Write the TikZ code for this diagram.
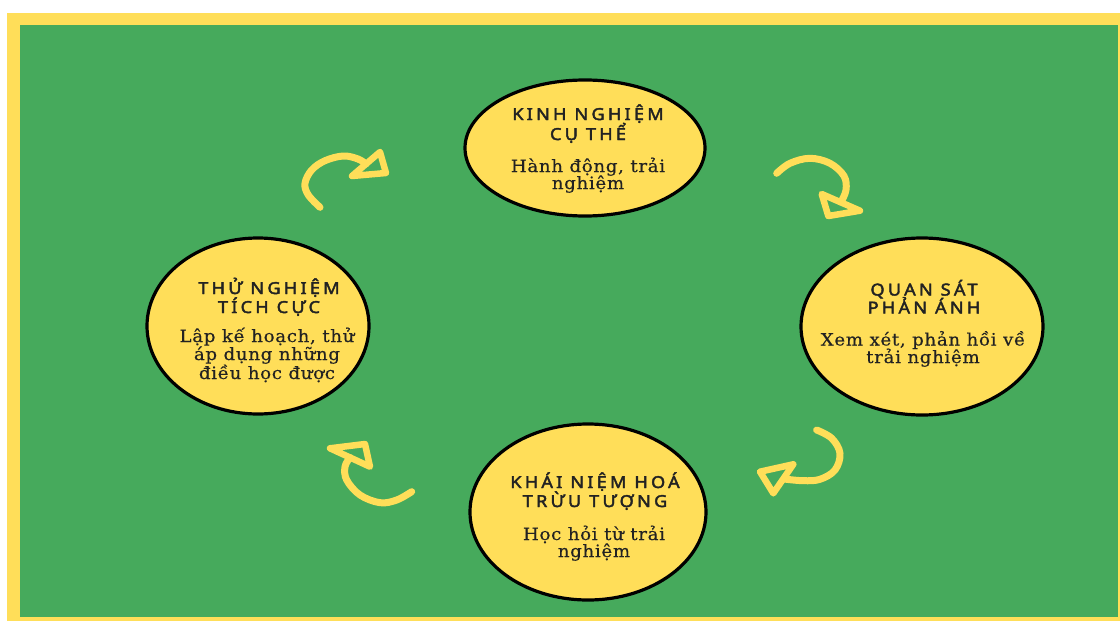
\documentclass[tikz,border=0pt]{standalone}
\usepackage{fontspec}
\usetikzlibrary{shapes.geometric}
\newfontfamily\hdfont[LetterSpace=19.5, FakeStretch=1.1, FakeBold=2.5]{Noto Sans}
\newfontfamily\bdfont[LetterSpace=4, FakeStretch=1.07, FakeBold=0.4]{DejaVu Serif}
\definecolor{grn}{RGB}{70,170,92}
\definecolor{ylw}{RGB}{255,222,89}
\definecolor{ink}{RGB}{34,34,34}
\begin{document}
\begin{tikzpicture}[x=1pt,y=-1pt,
  blob/.style={ellipse, draw=black, line width=3.2pt, fill=ylw, inner sep=0pt},
  hd/.style={anchor=base, inner sep=0pt, text=ink, font=\hdfont\fontsize{16.5}{19}\selectfont},
  bd/.style={anchor=base, inner sep=0pt, text=ink, font=\bdfont\fontsize{17}{20}\selectfont},
  arr/.style={draw=ylw, line width=7pt, line cap=round, line join=round},
  head/.style={draw=ylw, line width=6.5pt, line join=round}]
\fill[white] (0,0) rectangle (1120,621);
\fill[ylw] (7,13) rectangle (1120,621);
\fill[grn] (20,25) rectangle (1118,617);
\useasboundingbox (0,0) rectangle (1120,621);

% circles
\node[blob, minimum width=240pt, minimum height=136pt] (ke) at (585,148) {};
\node[blob, minimum width=242pt, minimum height=177pt] (qs) at (922,326.5) {};
\node[blob, minimum width=222pt, minimum height=176pt] (tn) at (258,326) {};
\node[blob, minimum width=236pt, minimum height=176pt] (kn) at (588,512) {};

% top
\node[hd] (ke1) at (588,120) {KINH NGHIỆM};
\node[hd] (ke2) at (588,140) {CỤ THỂ};
\node[bd] (ke3) at (588,172) {Hành động, trải};
\node[bd] (ke4) at (588,189) {nghiệm};
% right
\node[hd] (qs1) at (924,295.5) {QUAN SÁT};
\node[hd] (qs2) at (924,313.5) {PHẢN ÁNH};
\node[bd] (qs3) at (923,345.5) {Xem xét, phản hồi về};
\node[bd] (qs4) at (923,363) {trải nghiệm};
% left
\node[hd] (tn1) at (269,294) {THỬ NGHIỆM};
\node[hd] (tn2) at (269,313) {TÍCH CỰC};
\node[bd] (tn3) at (267,342) {Lập kế hoạch, thử};
\node[bd] (tn4) at (267,360) {áp dụng những};
\node[bd] (tn5) at (267,379) {điều học được};
% bottom
\node[hd] (kn1) at (595,488) {KHÁI NIỆM HOÁ};
\node[hd] (kn2) at (595,507) {TRỪU TƯỢNG};
\node[bd] (kn3) at (594,540) {Học hỏi từ trải};
\node[bd] (kn4) at (594,557) {nghiệm};

% curved arrows
\draw[arr] plot[smooth, tension=0.6] coordinates {(320,207.3) (308.3,195) (305,183.3) (311.7,170) (325,160.7) (343.3,156) (358,159) (366,164)};
\draw[head] (352,176) -- (380,152) -- (386,173) -- cycle;

\draw[arr] plot[smooth, tension=0.6] coordinates {(776.7,173.3) (790,163.3) (810,158.3) (830,163.3) (844,176) (846,190) (841,202)};
\draw[head] (821.7,194) -- (860,210.7) -- (828.3,216) -- cycle;

\draw[arr] plot[smooth, tension=0.6] coordinates {(816.7,430) (831.7,438.3) (840,453.3) (835,470) (820,479.3) (803.3,480.7) (784,479)};
\draw[head] (793.3,464.3) -- (773.3,493.3) -- (760,471.7) -- cycle;

\draw[arr] plot[smooth, tension=0.6] coordinates {(411.7,491.7) (396.7,500) (380,502.7) (360,495) (346.7,480) (345,466.7) (350,457.5)};
\draw[head] (330,448.3) -- (370,466.7) -- (365,444) -- cycle;
\end{tikzpicture}
\end{document}
